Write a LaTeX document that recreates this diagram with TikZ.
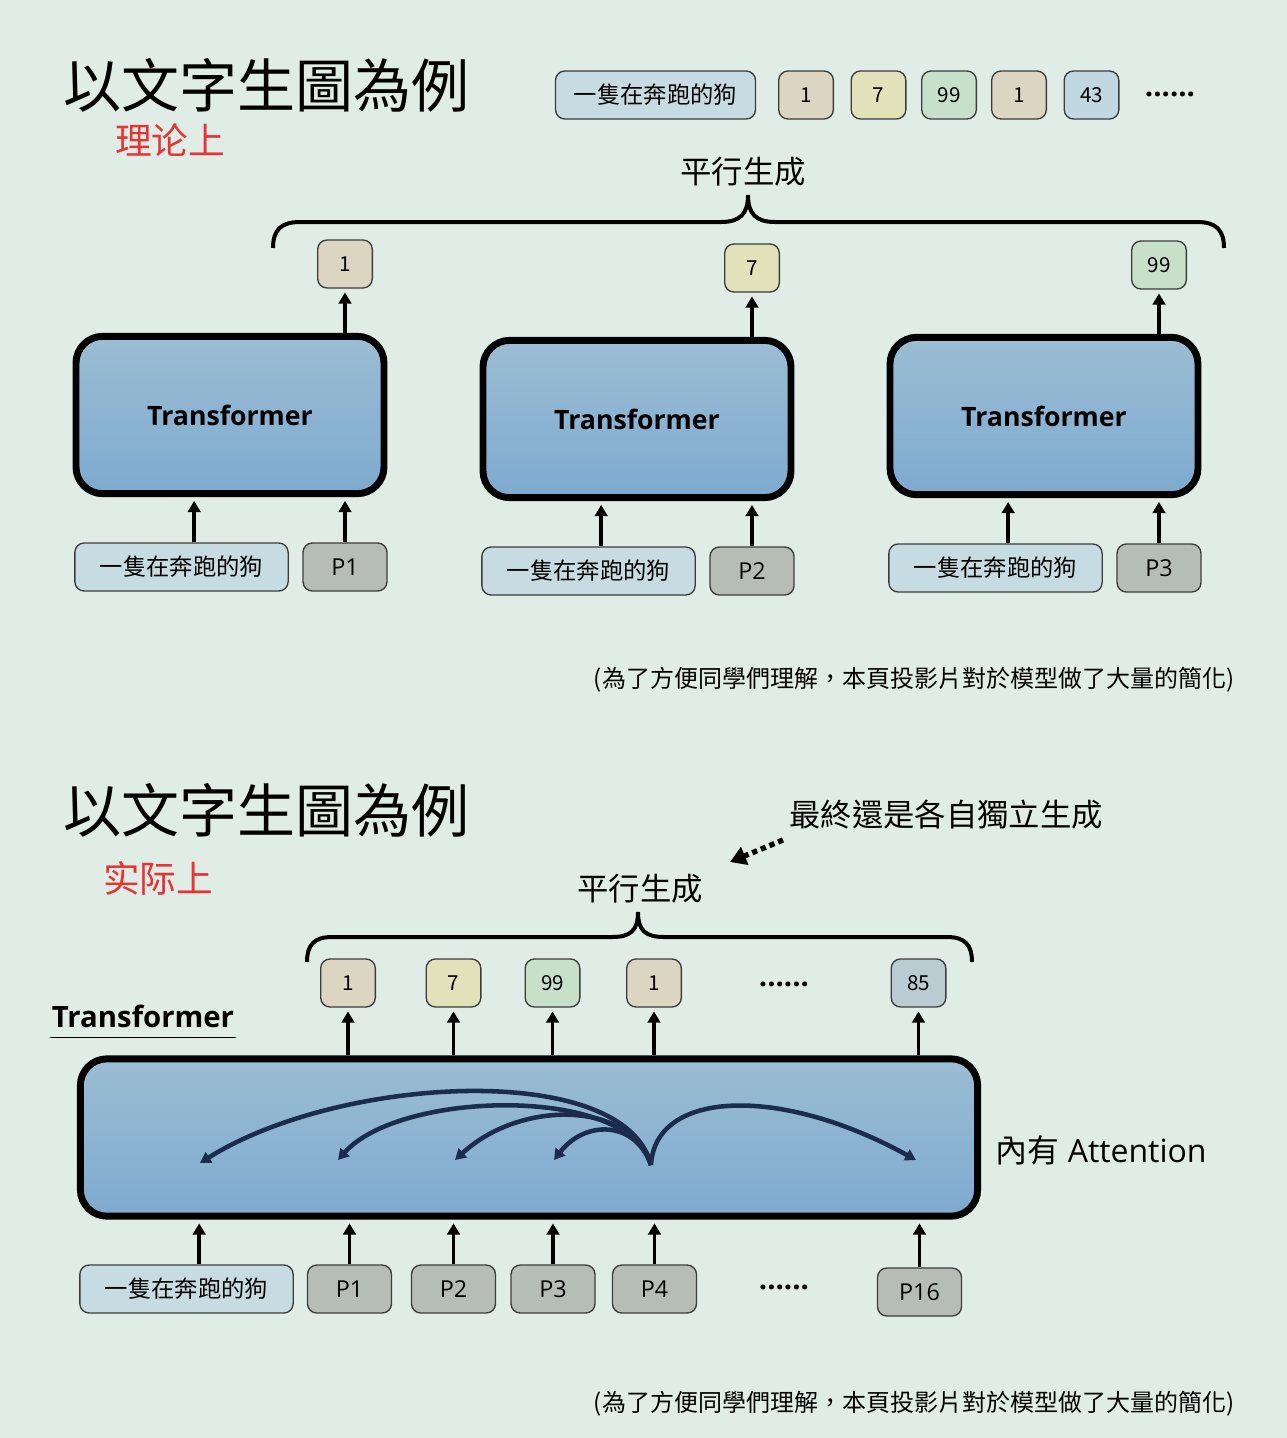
\documentclass[tikz,border=0pt]{standalone}
\usepackage{fontspec}
\setmainfont{Open Sans}
\newfontfamily\cjk{Noto Sans CJK TC}
\usetikzlibrary{arrows.meta}

\definecolor{bgc}{RGB}{224,237,231}
\definecolor{tfmtop}{RGB}{155,189,212}
\definecolor{tfmbot}{RGB}{126,170,207}
\definecolor{promptc}{RGB}{199,220,226}
\definecolor{tanc}{RGB}{220,213,194}
\definecolor{yelc}{RGB}{226,226,186}
\definecolor{grnc}{RGB}{200,224,201}
\definecolor{bluc}{RGB}{193,216,226}
\definecolor{slatec}{RGB}{186,204,210}
\definecolor{posc}{RGB}{182,189,183}
\definecolor{redc}{RGB}{233,51,51}
\definecolor{attc}{RGB}{28,44,78}
\definecolor{edgec}{RGB}{60,60,60}

\begin{document}
\begin{tikzpicture}[x=0.75pt,y=-0.75pt,
  tokbox/.style={draw=edgec, line width=1pt, rounded corners=7pt, inner sep=0pt, minimum height=36pt},
  outbox/.style={tokbox, minimum width=41pt, font=\cjk\fontsize{15.5}{15.5}\selectfont},
  promptbox/.style={tokbox, fill=promptc, minimum width=160pt, font=\cjk\fontsize{17.5}{17.5}\selectfont},
  posbox/.style={tokbox, fill=posc, minimum width=63pt, font=\fontsize{17.5}{17.5}\selectfont},
  tfm/.style={draw, line width=5.2pt, rounded corners=20pt, top color=tfmtop, bottom color=tfmbot,
    minimum width=231pt, minimum height=118pt, font=\bfseries\fontsize{20}{20}\selectfont},
  arr/.style={line width=2.6pt, shorten >=2.8pt, -{Triangle[width=9.5pt,length=8.5pt]}},
  att/.style={draw=attc, line width=3.4pt, -{Triangle[width=9pt,length=8pt]}},
  dotarr/.style={line width=4pt, dash pattern=on 4pt off 3pt, -{Triangle[width=14pt,length=12pt]}},
  brc/.style={line width=3pt},
  ttl/.style={font=\cjk\fontsize{43.5}{43.5}\selectfont},
  subttl/.style={text=redc, font=\cjk\fontsize{27.5}{27.5}\selectfont},
  gen/.style={font=\cjk\fontsize{23.5}{23.5}\selectfont},
  note/.style={font=\cjk\fontsize{18}{18}\selectfont},
  dots/.style={font=\bfseries\fontsize{22}{22}\selectfont}]

  \fill[bgc] (0,0) rectangle (1287,1438);
  \useasboundingbox (0,0) rectangle (1287,1438);

  % Part 1: theory
  \node[ttl] (title1) at (266,85) {以文字生圖為例};
  \node[subttl] (sub1) at (170,140) {理论上};

  \node[promptbox, minimum width=150pt] (seq) at (655.5,95) {一隻在奔跑的狗};
  \foreach \n/\x/\v/\c in {s1/806/1/tanc, s2/878.5/7/yelc, s3/949/99/grnc, s4/1019/1/tanc, s5/1091.5/43/bluc}
    \node[outbox, fill=\c] (\n) at (\x,95) {\v};
  \node[dots] (sdots) at (1170,94) {......};

  \node[gen] (gen1) at (743,172) {平行生成};
  \draw[brc] (273,248) .. controls (273,230) and (281,222) .. (300,222) -- (721,222)
    .. controls (740,222) and (748,214) .. (748,195)
    .. controls (748,214) and (756,222) .. (775,222) -- (1197,222)
    .. controls (1216,222) and (1224,230) .. (1224,248);

  \foreach \i/\dx/\dy/\v/\c in {1/0/0/1/tanc, 2/407/4/7/yelc, 3/814/1/99/grnc} {
    \node[tfm] (T\i) at (230+\dx,415+\dy) {Transformer};
    \node[outbox, fill=\c] (o\i) at (345+\dx,264+\dy) {\v};
    \node[promptbox] (q\i) at (181.5+\dx,567+\dy) {一隻在奔跑的狗};
    \node[posbox] (p\i) at (345+\dx,567+\dy) {P\i};
    \draw[arr] (o\i.south |- T\i.north) -- (o\i.south);
    \draw[arr] ([xshift=9.5pt]q\i.north) -- ([xshift=9.5pt]q\i.north |- T\i.south);
    \draw[arr] (p\i.north) -- (p\i.north |- T\i.south);
  }

  \node[note] (note1) at (914,680) {(為了方便同學們理解，本頁投影片對於模型做了大量的簡化)};

  % Part 2: practice
  \node[ttl] (title2) at (266,810) {以文字生圖為例};
  \node[subttl] (sub2) at (158,878) {实际上};
  \node[gen] (lbl) at (946,815) {最終還是各自獨立生成};
  \coordinate (d1) at (783,840);
  \coordinate (d2) at (730,862);
  \draw[dotarr] (d1) -- (d2);

  \node[gen] (gen2) at (640,889) {平行生成};
  \draw[brc] (307,962) .. controls (307,945) and (314,937) .. (332,937) -- (612,937)
    .. controls (631,937) and (638,930) .. (638,912)
    .. controls (638,930) and (645,937) .. (664,937) -- (947,937)
    .. controls (965,937) and (972,945) .. (972,962);

  \node[tfm, minimum width=673pt] (T) at (529,1137.5) {};
  \node[font=\bfseries\fontsize{22}{22}\selectfont, inner xsep=0pt, inner ysep=0pt] (tlab) at (143,1016) {Transformer};
  \draw[line width=1.1pt] ([xshift=-1.5pt,yshift=-7.5pt]tlab.south west) -- ([xshift=1.5pt,yshift=-7.5pt]tlab.south east);
  \node[font=\fontsize{24}{24}\selectfont] (attlbl) at (1101,1150) {{\cjk 內有} Attention};

  \foreach \n/\x/\v/\c in {b1/348/1/tanc, b2/453.5/7/yelc, b3/552.5/99/grnc, b4/654/1/tanc, b5/918.5/85/slatec} {
    \node[outbox, fill=\c] (\n) at (\x,983) {\v};
    \draw[arr] (\n.south |- T.north) -- (\n.south);
  }
  \node[dots] (bdots) at (784,984) {......};

  \node[promptbox] (q) at (186.5,1289) {一隻在奔跑的狗};
  \draw[arr] ([xshift=9.5pt]q.north) -- ([xshift=9.5pt]q.north |- T.south);
  \foreach \n/\x/\y/\v in {r1/349.5/1289/P1, r2/453.5/1289/P2, r3/553/1289/P3, r4/654.5/1289/P4, r16/919.5/1292/P16} {
    \node[posbox] (\n) at (\x,\y) {\v};
    \draw[arr] (\n.north) -- (\n.north |- T.south);
  }
  \node[dots] (rdots) at (784,1287) {......};

  % attention inside the transformer
  \coordinate (src) at (651,1165);
  \coordinate (a1) at (200,1163);
  \coordinate (a2) at (338,1160);
  \coordinate (a3) at (455,1160);
  \coordinate (a4) at (554,1160);
  \coordinate (a5) at (916,1160);
  \draw[att] (src) .. controls (625,1060) and (340,1075) .. (a1);
  \draw[att] (src) .. controls (630,1085) and (400,1090) .. (a2);
  \draw[att] (src) .. controls (630,1100) and (520,1100) .. (a3);
  \draw[att] (src) .. controls (635,1120) and (585,1120) .. (a4);
  \draw[att] (src) .. controls (655,1090) and (780,1085) .. (a5);

  \node[note] (note2) at (914,1404) {(為了方便同學們理解，本頁投影片對於模型做了大量的簡化)};
\end{tikzpicture}
\end{document}
